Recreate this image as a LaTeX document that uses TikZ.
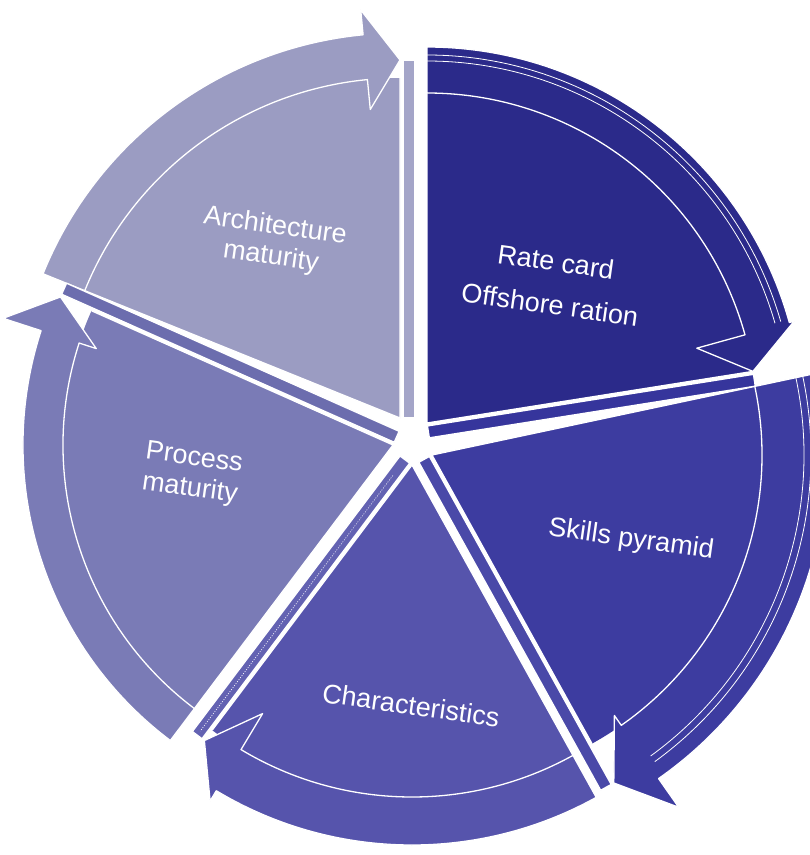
\documentclass[tikz,border=0pt]{standalone}
\usepackage{fontspec}
\setmainfont{Liberation Sans}
\usetikzlibrary{calc}

% slice colours (face) and side-face colours
\definecolor{archC}{HTML}{9B9CC2}
\definecolor{archS}{HTML}{A4A5C8}
\definecolor{rateC}{HTML}{2B2A8A}
\definecolor{rateS}{HTML}{36359C}
\definecolor{skillC}{HTML}{3D3CA0}
\definecolor{skillS}{HTML}{4A49A8}
\definecolor{charC}{HTML}{5654AC}
\definecolor{charS}{HTML}{6362B2}
\definecolor{procC}{HTML}{7A7BB6}
\definecolor{procS}{HTML}{6C6DAE}

\begin{document}
\begin{tikzpicture}[x=1pt,y=-1pt,
  sep/.style={draw=white,line width=1.3pt,line join=round},
  rim/.style={draw=white,line width=0.8pt},
  slicelabel/.style={text=white,font=\fontsize{27}{31}\selectfont,align=center,rotate=-8,inner sep=0pt}]

\useasboundingbox (0,0) rectangle (810,855);
\fill[white] (0,0) rectangle (810,855);

\begin{scope}
\clip (0,0) rectangle (810,855);
% name / apex / start / end / band inner / band outer / head angle /
% inner barb / outer barb / tip radius / face / side
\foreach \n/\ax/\ay/\s/\e/\ri/\ro/\h/\bi/\bo/\rt/\c/\sc in {
  arch/400/418/202/270/340/385/5.5/30/25/358/archC/archS,
  rate/427/423/-90/-9/330/376/6.5/50/5/330/rateC/rateS,
  skill/432/455/-12/61/330/395/6/12/35/375/skillC/skillS,
  char/412/465/61/127/332/380/6/42/12/345/charC/charS,
  proc/393/445/127/204/330/370/6/18/40/364/procC/procS}
{
  \coordinate (\n) at (\ax,\ay);
  \pgfmathsetmacro\hb{\e-\h}
  % side face along the closing edge
  \filldraw[fill=\sc,sep] ($(\n)+(\e+90:3)$) -- ($(\n)+(\e+90:3)+(\e:\rt)$)
     -- ($(\n)+(\e+90:15)+(\e:\rt)$) -- ($(\n)+(\e+90:15)$) -- cycle;
  % slice face
  \fill[\c] (\n) -- ($(\n)+(\s:\ri)$) arc[start angle=\s,end angle=\e,radius=\ri] -- cycle;
  \draw[sep] ($(\n)+(\s:\ri)$) -- (\n) -- ($(\n)+(\e:\ri)$);
  % curved arrow on the rim
  \filldraw[fill=\c,sep] ($(\n)+(\s:\ri)$) arc[start angle=\s,end angle=\hb,radius=\ri]
     -- ($(\n)+(\hb:{\ri-\bi})$) -- ($(\n)+(\e:\rt)$) -- ($(\n)+(\hb:{\ro+\bo})$)
     -- ($(\n)+(\hb:\ro)$) arc[start angle=\hb,end angle=\s,radius=\ro] -- cycle;
}
% raised rim edges of the two right-hand arrows
\draw[rim] ($(rate)+(-90:362)$) arc[start angle=-90,end angle=-16,radius=362];
\draw[rim] ($(rate)+(-90:368)$) arc[start angle=-90,end angle=-16,radius=368];
\draw[rim] ($(skill)+(-12:372)$) arc[start angle=-12,end angle=54,radius=372];
\draw[rim] ($(skill)+(-12:379)$) arc[start angle=-12,end angle=54,radius=379];
% dotted seam along the side face of the lower slice
\draw[white,line width=0.6pt,dash pattern=on 1pt off 1.5pt]
  ($(char)+(217:9)+(127:20)$) -- ($(char)+(217:9)+(127:340)$);
\end{scope}

% labels
\node[slicelabel] (archT) at (273,242) {Architecture\\maturity};
\node[slicelabel] (rateT) at (553,283) {Rate card\\[12pt]Offshore ration};
\node[slicelabel] (procT) at (192,474) {Process\\maturity};
\node[slicelabel] (skillT) at (631,540) {Skills pyramid};
\node[slicelabel] (charT) at (411,705) {Characteristics};
\end{tikzpicture}
\end{document}
